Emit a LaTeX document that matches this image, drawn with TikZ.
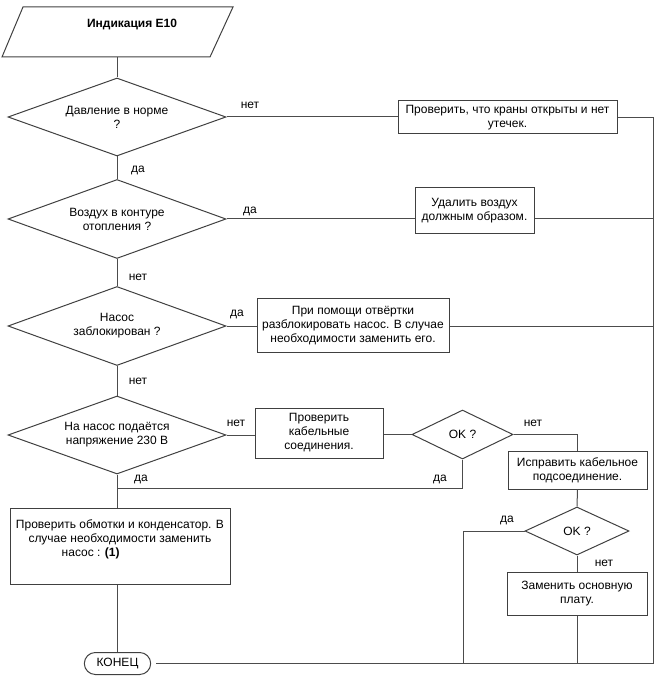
\documentclass[tikz,border=0pt]{standalone}
\usepackage{fontspec}
\setmainfont{Liberation Sans}
\usetikzlibrary{shapes.geometric,shapes.misc}
\begin{document}
\begin{tikzpicture}[x=0.75pt,y=-0.75pt,
  every node/.style={font=\fontsize{9}{10.5}\selectfont},
  sz/.style 2 args={minimum width=#1*0.75pt, minimum height=#2*0.75pt},
  conn/.style={draw=black!70, line width=0.75pt},
  box/.style={draw=black!75, line width=0.75pt, rectangle, align=center, inner sep=1pt},
  dec/.style={draw=black!75, line width=0.75pt, diamond, aspect=2.8, inner sep=0pt, align=center},
  lbl/.style={inner sep=0pt}]
\useasboundingbox (0,0) rectangle (657,680);
% start
\draw[draw=black!75, line width=0.75pt] (23,7) -- (233,7) -- (210,57) -- (2,57) -- cycle;
\node[font=\fontsize{9}{10.5}\selectfont\bfseries] (start) at (132,25) {Индикация E10};
\coordinate (startb) at (117,57);
% decisions and boxes
\node[dec, sz={218}{78}] (d1) at (117,117) {Давление в норме\\?};
\node[box, sz={219}{33}] (b1) at (507.5,117.5) {Проверить, что краны открыты и нет\\утечек.};
\node[dec, sz={218}{79}] (d2) at (117,219) {Воздух в контуре\\отопления ?};
\node[box, sz={119}{46}] (b2) at (474.5,211) {Удалить воздух\\должным образом.};
\node[dec, sz={218}{79}] (d3) at (117,326) {Насос\\заблокирован ?};
\node[box, sz={192}{53}] (b3) at (353,325.5) {При помощи отвёртки\\разблокировать насос. В случае\\необходимости заменить его.};
\node[dec, sz={218}{78}] (d4) at (117,435) {На насос подаётся\\напряжение 230 В};
\node[box, sz={128}{50}] (b4) at (319,433) {Проверить\\кабельные\\соединения.};
\node[dec, sz={101}{49}, aspect=2] (ok1) at (462.5,434.5) {OK ?};
\node[box, sz={139}{38}] (b5) at (577.5,470) {Исправить кабельное\\подсоединение.};
\node[dec, sz={104}{48}, aspect=2] (ok2) at (577,531) {OK ?};
\node[box, sz={140}{43}] (b6) at (577,593.5) {Заменить основную\\плату.};
\node[box, sz={220}{76}] (b7) at (120,546) {};
\node[align=center, inner sep=0pt] (b7t) at (120,539) {Проверить обмотки и конденсатор. В\\случае необходимости заменить\\\hspace*{-44pt}насос : \textbf{(1)}};
\node[draw=black!75, line width=0.75pt, rounded rectangle, sz={69}{22}, inner sep=1pt] (end) at (117.5,663.5) {КОНЕЦ};
% helper coordinates
\coordinate (rtop) at (653,117.5);
\coordinate (rbot) at (653,663.5);
\coordinate (bl) at (463,663.5);
\coordinate (j1) at (117,488);
% connectors
\draw[conn] (startb) -- (d1.north);
\draw[conn] (d1.east) -- (d1.east -| b1.west);
\draw[conn] (b1.east) -- (rtop);
\draw[conn] (rtop) -- (rbot);
\draw[conn] (d1.south) -- (d2.north);
\draw[conn] (d2.east) -- (d2.east -| b2.west);
\draw[conn] (d2.east -| b2.east) -- (d2.east -| rtop);
\draw[conn] (d2.south) -- (d3.north);
\draw[conn] (d3.east) -- (d3.east -| b3.west);
\draw[conn] (d3.east -| b3.east) -- (d3.east -| rtop);
\draw[conn] (d3.south) -- (d4.north);
\draw[conn] (d4.east) -- (d4.east -| b4.west);
\draw[conn] (ok1.west -| b4.east) -- (ok1.west);
\draw[conn] (ok1.east) -| (b5.north);
\draw[conn] (b5.south) -- (ok2.north);
\draw[conn] (ok2.west) -| (bl);
\draw[conn] (ok2.south) -- (b6.north);
\draw[conn] (b6.south) -- (b6.south |- rbot);
\draw[conn] (ok1.south) |- (j1);
\draw[conn] (d4.south) -- (d4.south |- b7.north);
\draw[conn] (b7.south -| d4.south) -- (d4.south |- end.north);
\draw[conn, shorten <=3.75pt] (end.east) -- (rbot);
% labels
\node[lbl] (l1) at (250,105) {нет};
\node[lbl] (l2) at (138,170) {да};
\node[lbl] (l3) at (250,211) {да};
\node[lbl] (l4) at (138,277) {нет};
\node[lbl] (l5) at (237,314) {да};
\node[lbl] (l6) at (138,381) {нет};
\node[lbl] (l7) at (236,423) {нет};
\node[lbl] (l8) at (141,479) {да};
\node[lbl] (l9) at (440,479) {да};
\node[lbl] (l10) at (533,423) {нет};
\node[lbl] (l11) at (507,520) {да};
\node[lbl] (l12) at (604,563) {нет};
\end{tikzpicture}
\end{document}
